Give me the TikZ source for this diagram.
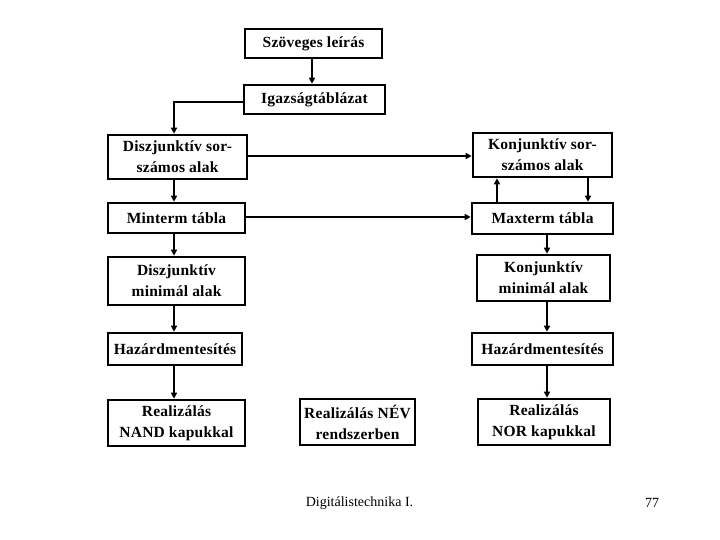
\documentclass[tikz,border=0pt]{standalone}
\usepackage{fontspec}
\setmainfont{Liberation Serif}
\newfontfamily\boxfont{Liberation Serif}[LetterSpace=1.5]
\usetikzlibrary{arrows.meta}
\tikzset{
  box/.style={draw, line width=2.6pt, align=center, inner sep=0pt,
    font=\boxfont\bfseries\fontsize{15.5}{21}\selectfont},
  conn/.style={line width=2.2pt, -{Triangle[length=6pt,width=6pt]}},
  foot/.style={font=\fontsize{14}{16}\selectfont, inner sep=0pt}
}
\begin{document}
\begin{tikzpicture}[x=1pt,y=-1pt]
\useasboundingbox (0,0) rectangle (720,540);
\node[box, minimum width=137pt, minimum height=29pt] (szov) at (313.5,43.5) {Szöveges leírás};
\node[box, minimum width=141pt, minimum height=29pt] (igaz) at (314.5,99.5) {Igazságtáblázat};
\node[box, minimum width=139pt, minimum height=44pt] (dsz) at (177.5,157) {Diszjunktív sor-\\számos alak};
\node[box, minimum width=139pt, minimum height=44pt] (ksz) at (542.5,155) {Konjunktív sor-\\számos alak};
\node[box, minimum width=137pt, minimum height=30pt] (mint) at (176.5,218) {Minterm tábla};
\node[box, minimum width=141pt, minimum height=31pt] (maxt) at (542.5,218.5) {Maxterm tábla};
\node[box, minimum width=137pt, minimum height=48pt] (dmin) at (176.5,281) {Diszjunktív\\minimál alak};
\node[box, minimum width=133pt, minimum height=46pt] (kmin) at (543.5,278) {Konjunktív\\minimál alak};
\node[box, minimum width=134pt, minimum height=32pt] (hl) at (175,349) {Hazárdmentesítés};
\node[box, minimum width=141pt, minimum height=32pt] (hr) at (542.5,349) {Hazárdmentesítés};
\node[box, minimum width=137pt, minimum height=46pt] (nand) at (176.5,423) {Realizálás\\NAND kapukkal};
\node[box, minimum width=115pt, minimum height=46pt] (nev) at (357.5,422) {Realizálás NÉV\\rendszerben};
\node[box, minimum width=132pt, minimum height=46pt] (nor) at (544,422) {Realizálás\\NOR kapukkal};
\node[foot] (ft) at (359.5,503) {Digitálistechnika I.};
\node[foot] (pg) at (652,503) {77};
% connectors
\draw[conn] (szov.south -| 312,0) -- (igaz.north -| 312,0);
\draw[conn] (igaz.west |- 0,102) -| (dsz.north -| 174,0);
\draw[conn] (dsz.east |- 0,156) -- (ksz.west |- 0,156);
\draw[conn] (mint.east |- 0,217) -- (maxt.west |- 0,217);
\draw[conn] (ksz.south -| 588,0) -- (maxt.north -| 588,0);
\draw[conn] (maxt.north -| 497,0) -- (ksz.south -| 497,0);
\draw[conn] (dsz.south -| 174,0) -- (mint.north -| 174,0);
\draw[conn] (mint.south -| 174,0) -- (dmin.north -| 174,0);
\draw[conn] (dmin.south -| 174,0) -- (hl.north -| 174,0);
\draw[conn] (hl.south -| 174,0) -- (nand.north -| 174,0);
\draw[conn] (maxt.south -| 547,0) -- (kmin.north -| 547,0);
\draw[conn] (kmin.south -| 547,0) -- (hr.north -| 547,0);
\draw[conn] (hr.south -| 547,0) -- (nor.north -| 547,0);
\end{tikzpicture}
\end{document}
